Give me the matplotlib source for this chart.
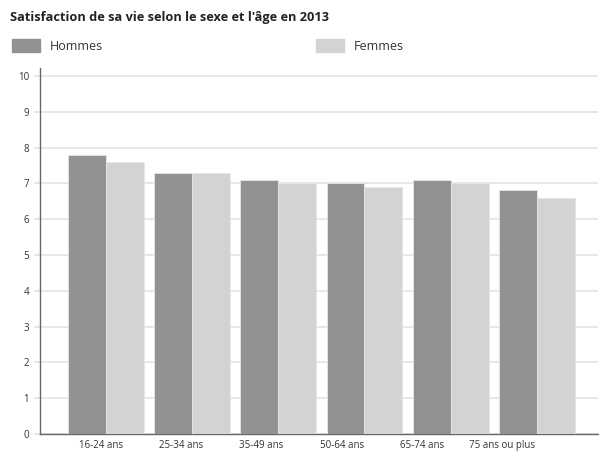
import matplotlib.pyplot as plt
import numpy as np
from matplotlib.patches import Rectangle

categories = ["16-24 ans", "25-34 ans", "35-49 ans", "50-64 ans", "65-74 ans", "75 ans ou plus"]
hommes = [7.8, 7.3, 7.1, 7.0, 7.1, 6.8]
femmes = [7.6, 7.3, 7.0, 6.9, 7.0, 6.6]
series_names = ["Hommes", "Femmes"]
colors = ["#929292", "#d3d3d3"]


def main():
    plt.rcParams["font.family"] = ["Open Sans", "DejaVu Sans"]
    fig = plt.figure(figsize=(6.02, 4.51), dpi=100)
    ax = fig.add_axes([40 / 602, 1 - 434 / 451, 558 / 602, (434 - 68) / 451])

    X = np.arange(len(categories))
    w = 0.44
    for i, vals in enumerate([hommes, femmes]):
        ax.bar(X + (i - 0.5) * w, vals, width=w, color=colors[i],
               edgecolor="#e6e6e6", linewidth=0.6, zorder=3)

    ax.set_xlim(-0.766, 5.71)
    ax.set_ylim(0, 10.22)
    ax.set_yticks(range(0, 11))
    ax.yaxis.grid(True, color="#e3e3e3", linewidth=1.2, zorder=0)
    ax.tick_params(axis="y", length=4.3, color="#e3e3e3", width=1.2,
                   labelsize=7, labelcolor="#333333", pad=3.5)

    # category labels sit slightly left of the groups, as in the source
    ax.set_xticks(X * 0.932 - 0.06)
    ax.set_xticklabels(categories)
    ax.tick_params(axis="x", length=0, labelsize=7, labelcolor="#333333", pad=4)

    for s in ["top", "right"]:
        ax.spines[s].set_visible(False)
    ax.spines["left"].set_color("#666666")
    ax.spines["bottom"].set_color("#666666")
    ax.spines["left"].set_linewidth(1.0)
    ax.spines["bottom"].set_linewidth(1.0)

    fig.text(10 / 602, 1 - 17 / 451, "Satisfaction de sa vie selon le sexe et l'âge en 2013",
             fontsize=9.2, fontweight="bold", color="#222222", va="center")

    # legend
    for x0, name, c in zip([12, 316], series_names, colors):
        fig.patches.append(Rectangle((x0 / 602, 1 - 52 / 451), 28 / 602, 13 / 451,
                                     transform=fig.transFigure, color=c))
        fig.text((x0 + 38) / 602, 1 - 47 / 451, name, fontsize=9,
                 color="#333333", va="center")

    fig.savefig("out.png", dpi=100)


if __name__ == "__main__":
    main()
